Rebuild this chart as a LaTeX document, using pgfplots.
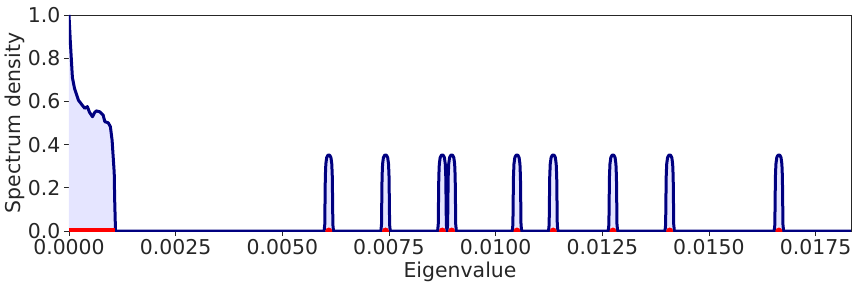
\documentclass[border=0pt]{standalone}
\usepackage{pgfplots}
\pgfplotsset{compat=1.18}
\usepackage{pgfplotstable}
\usepackage{fontspec}
\setmainfont{DejaVu Sans}
\definecolor{navy}{HTML}{000080}
\definecolor{fillc}{HTML}{E5E5FF}
\definecolor{txt}{HTML}{262626}

% eigenvalue axis in units of 1e-3
\pgfplotstableread{
x y
0 1.0
0.03 0.88
0.08 0.71
0.13 0.66
0.22 0.606
0.30 0.585
0.37 0.568
0.43 0.576
0.48 0.55
0.55 0.529
0.60 0.548
0.64 0.556
0.72 0.552
0.80 0.537
0.84 0.506
0.92 0.501
0.97 0.483
1.01 0.421
1.04 0.33
1.06 0.27
1.07 0.15
1.09 0
5.98 0
5.995 0.03
6.002 0.15
6.008 0.25
6.02 0.31
6.04 0.34
6.065 0.35
6.09 0.352
6.115 0.35
6.14 0.34
6.16 0.31
6.172 0.25
6.178 0.15
6.185 0.03
6.20 0
7.31 0
7.325 0.03
7.332 0.15
7.338 0.25
7.35 0.31
7.37 0.34
7.395 0.35
7.42 0.352
7.445 0.35
7.47 0.34
7.49 0.31
7.502 0.25
7.508 0.15
7.515 0.03
7.53 0
8.64 0
8.655 0.03
8.662 0.15
8.668 0.25
8.68 0.31
8.70 0.34
8.725 0.35
8.75 0.352
8.775 0.35
8.80 0.34
8.82 0.31
8.832 0.25
8.838 0.15
8.845 0.03
8.86 0
8.875 0.03
8.882 0.15
8.888 0.25
8.90 0.31
8.92 0.34
8.945 0.35
8.97 0.352
8.995 0.35
9.02 0.34
9.04 0.31
9.052 0.25
9.058 0.15
9.065 0.03
9.08 0
10.39 0
10.405 0.03
10.412 0.15
10.418 0.25
10.43 0.31
10.45 0.34
10.475 0.35
10.50 0.352
10.525 0.35
10.55 0.34
10.57 0.31
10.582 0.25
10.588 0.15
10.595 0.03
10.61 0
11.24 0
11.255 0.03
11.262 0.15
11.268 0.25
11.28 0.31
11.30 0.34
11.325 0.35
11.35 0.352
11.375 0.35
11.40 0.34
11.42 0.31
11.432 0.25
11.438 0.15
11.445 0.03
11.46 0
12.64 0
12.655 0.03
12.662 0.15
12.668 0.25
12.68 0.31
12.70 0.34
12.725 0.35
12.75 0.352
12.775 0.35
12.80 0.34
12.82 0.31
12.832 0.25
12.838 0.15
12.845 0.03
12.86 0
13.97 0
13.985 0.03
13.992 0.15
13.998 0.25
14.01 0.31
14.03 0.34
14.055 0.35
14.08 0.352
14.105 0.35
14.13 0.34
14.15 0.31
14.162 0.25
14.168 0.15
14.175 0.03
14.19 0
16.53 0
16.545 0.03
16.552 0.15
16.558 0.25
16.57 0.31
16.59 0.34
16.615 0.35
16.64 0.352
16.665 0.35
16.69 0.34
16.71 0.31
16.722 0.25
16.728 0.15
16.735 0.03
16.75 0
18.33 0
}\density

\begin{document}
\begin{tikzpicture}
\useasboundingbox (-69bp,-61bp) rectangle (792bp,231bp);
\begin{axis}[
    at={(0,0)}, anchor=south west,
    scale only axis, width=782bp, height=216bp,
    xmin=0, xmax=18.33, ymin=0, ymax=1,
    xtick={0,2.5,5,7.5,10,12.5,15,17.5},
    xticklabels={0.0000,0.0025,0.0050,0.0075,0.0100,0.0125,0.0150,0.0175},
    ytick={0,0.2,0.4,0.6,0.8,1},
    yticklabel style={/pgf/number format/.cd, fixed, fixed zerofill, precision=1},
    /pgf/number format/assume math mode=true,
    tick label style={font=\fontsize{20.5}{24}\selectfont, text=txt},
    label style={font=\fontsize{20.5}{24}\selectfont, text=txt},
    tick align=outside, major tick length=5bp,
    tick style={txt, line width=0.8bp},
    xtick pos=bottom, ytick pos=left,
    axis line style={txt, line width=0.8bp},
    xlabel={Eigenvalue},
    ylabel={Spectrum density},
    xlabel style={at={(axis description cs:0.5,0)}, anchor=center, yshift=-41bp},
    ylabel style={at={(axis description cs:-0.069,0.5)}, anchor=center},
    clip marker paths=true,
]
\addplot[draw=none, fill=fillc] table {\density} \closedcycle;
\addplot[navy, line width=3bp, line join=round] table {\density};
\addplot[red, line width=6bp] coordinates {(0,0) (1.07,0)};
\addplot[only marks, mark=*, mark size=3.2bp, red] coordinates {
    (6.09,0) (7.42,0) (8.75,0) (8.97,0) (10.50,0) (11.35,0)
    (12.75,0) (14.08,0) (16.64,0)};
\end{axis}
\end{tikzpicture}
\end{document}
